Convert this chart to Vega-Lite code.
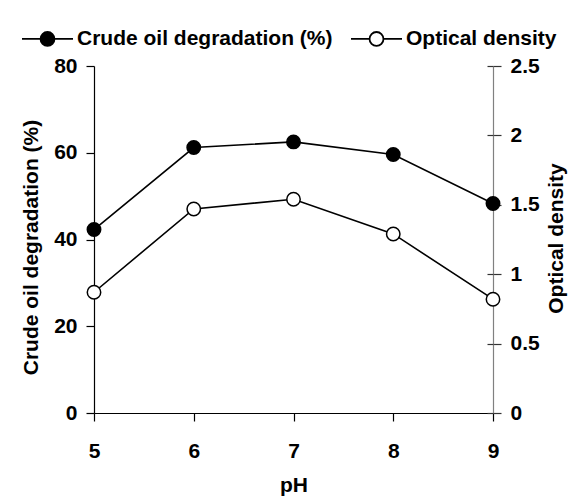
{
  "$schema": "https://vega.github.io/schema/vega-lite/v6.json",
  "width": 399,
  "height": 347,
  "autosize": "none",
  "padding": {"left": 94, "top": 66, "right": 78, "bottom": 86},
  "background": "white",
  "config": {
    "view": {"stroke": null},
    "font": "Liberation Sans",
    "axis": {"grid": false, "labelFont": "Liberation Sans", "labelFontWeight": "bold", "labelFontSize": 21, "labelColor": "black", "titleFont": "Liberation Sans", "titleFontWeight": "bold", "titleFontSize": 21, "titleColor": "black", "domainColor": "black", "tickColor": "black", "domainWidth": 1.2, "tickWidth": 1.2}
  },
  "data": {"values": [
    {"pH": 5, "deg": 42.3, "od": 0.87},
    {"pH": 6, "deg": 61.2, "od": 1.47},
    {"pH": 7, "deg": 62.5, "od": 1.54},
    {"pH": 8, "deg": 59.6, "od": 1.29},
    {"pH": 9, "deg": 48.3, "od": 0.82}
  ]},
  "encoding": {
    "x": {"field": "pH", "type": "quantitative", "scale": {"domain": [5, 9], "nice": false, "zero": false},
      "axis": {"values": [5, 6, 7, 8, 9], "title": "pH", "tickSize": 8, "labelPadding": 19, "titleAngle": 0, "titleAlign": "center", "titleBaseline": "alphabetic", "titleY": 78, "titleX": 199.5, "labelFlush": false}}
  },
  "layer": [
    {
      "layer": [
        {"mark": {"type": "line", "color": "black", "strokeWidth": 1.6},
         "encoding": {"y": {"field": "deg", "type": "quantitative", "scale": {"domain": [0, 80], "nice": false},
           "axis": {"orient": "left", "values": [0, 20, 40, 60, 80], "title": "Crude oil degradation (%)", "tickSize": 8, "labelPadding": 9, "titleAngle": -90, "titleAlign": "center", "titleBaseline": "alphabetic", "titleX": -57, "titleY": 181}}}},
        {"mark": {"type": "point", "filled": true, "size": 180, "stroke": "black", "strokeWidth": 1.5, "opacity": 1},
         "encoding": {"y": {"field": "deg", "type": "quantitative"},
           "fill": {"datum": "Crude oil degradation (%)", "type": "nominal",
             "scale": {"domain": ["Crude oil degradation (%)", "Optical density"], "range": ["black", "white"]},
             "legend": {"title": null, "orient": "none", "direction": "horizontal", "legendX": -74, "legendY": -38,
               "symbolType": "M-1,0L1.18,0M2.82,0L5,0M2.82,0A0.82,0.82,0,1,1,1.18,0A0.82,0.82,0,1,1,2.82,0Z",
               "symbolSize": 289, "symbolStrokeColor": "black", "symbolStrokeWidth": 1.8, "symbolOpacity": 1,
               "labelOffset": 36, "columnPadding": 14, "labelFont": "Liberation Sans", "labelFontSize": 21, "labelFontWeight": "bold", "labelColor": "black", "labelLimit": 400, "padding": 0}}}}
      ]
    },
    {
      "layer": [
        {"mark": {"type": "line", "color": "black", "strokeWidth": 1.6},
         "encoding": {"y": {"field": "od", "type": "quantitative", "scale": {"domain": [0, 2.5], "nice": false},
           "axis": {"orient": "right", "values": [0, 0.5, 1, 1.5, 2, 2.5], "format": "~g", "title": "Optical density", "tickSize": 8, "labelPadding": 9, "domainColor": "#808080", "tickColor": "#333333", "titleAngle": -90, "titleAlign": "center", "titleBaseline": "alphabetic", "titleX": 69, "titleY": 172}}}},
        {"mark": {"type": "point", "filled": true, "size": 180, "stroke": "black", "strokeWidth": 1.5, "opacity": 1},
         "encoding": {"y": {"field": "od", "type": "quantitative",
           "axis": {"orient": "right", "values": [0, 0.5, 1, 1.5, 2, 2.5], "tickSize": -6, "labels": false, "domain": false, "title": null, "tickColor": "#333333"}},
           "fill": {"datum": "Optical density", "type": "nominal"}}}
      ],
      "resolve": {"axis": {"y": "independent"}}
    }
  ],
  "resolve": {"scale": {"y": "independent"}}
}
